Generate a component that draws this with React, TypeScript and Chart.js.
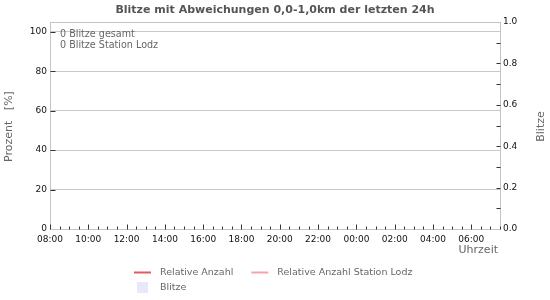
import React, { useEffect, useRef } from "react";
import { Chart, registerables } from "chart.js";

Chart.register(...registerables);

// ---- data ----
const chartTitle = "Blitze mit Abweichungen 0,0-1,0km der letzten 24h";
const startHour = 8;
const hoursSpan = 23.5;
const hourTickStep = 0.5;
const hourLabelStep = 2;
const percentTicks = [0, 20, 40, 60, 80, 100];
const percentMax = 105;
const blitzeMax = 1;
const blitzeTickStep = 0.1;
const blitzeLabelStep = 0.2;
const seriesLabels = ["Relative Anzahl", "Relative Anzahl Station Lodz", "Blitze"];
const seriesColors = ["#e35a5a", "#f7a3a3", "#e8e8fc"];
const relativeAnzahl: { x: number; y: number }[] = [];
const relativeAnzahlLodz: { x: number; y: number }[] = [];
const blitzeCounts: { x: number; y: number }[] = [];
const infoLines = ["0 Blitze gesamt", "0 Blitze Station Lodz"];
const yTitle = "Prozent   [%]";
const y1Title = "Blitze";
const xTitle = "Uhrzeit";

const FONT = "'DejaVu Sans', sans-serif";

const fmtHour = (v: number) => {
  const h = (startHour + Math.round(v)) % 24;
  return (h < 10 ? "0" : "") + h + ":00";
};

const decor = {
  id: "decor",
  beforeDraw(chart: any) {
    const ctx = chart.ctx;
    ctx.save();
    ctx.fillStyle = "#ffffff";
    ctx.fillRect(0, 0, chart.width, chart.height);
    ctx.restore();
  },
  afterDraw(chart: any) {
    const { ctx, chartArea: a, scales } = chart;
    const L = Math.round(a.left) + 0.5;
    const R = Math.round(a.right) + 0.5;
    const T = Math.round(a.top) + 0.5;
    const B = Math.round(a.bottom) + 0.5;
    ctx.save();
    // frame
    ctx.strokeStyle = "#c4c4c4";
    ctx.lineWidth = 1;
    ctx.beginPath();
    ctx.moveTo(L, T);
    ctx.lineTo(R, T);
    ctx.lineTo(R, B);
    ctx.lineTo(L, B);
    ctx.closePath();
    ctx.stroke();

    // tick marks inside
    ctx.strokeStyle = "#333333";
    ctx.beginPath();
    scales.x.ticks.forEach((t: any) => {
      const px = Math.round(scales.x.getPixelForValue(t.value)) + 0.5;
      const len = Math.abs(t.value % hourLabelStep) < 1e-6 ? 5 : 3;
      ctx.moveTo(px, B);
      ctx.lineTo(px, B - len);
    });
    scales.y.ticks.forEach((t: any) => {
      if (t.value === 0) return;
      const py = Math.round(scales.y.getPixelForValue(t.value)) + 0.5;
      ctx.moveTo(L, py);
      ctx.lineTo(L + 5, py);
    });
    scales.y1.ticks.forEach((t: any) => {
      if (t.value === 0 || t.value >= blitzeMax - 1e-6) return;
      const py = Math.round(scales.y1.getPixelForValue(t.value)) + 0.5;
      ctx.moveTo(R - 4, py);
      ctx.lineTo(R, py);
    });
    ctx.stroke();

    // title
    ctx.fillStyle = "#555555";
    ctx.font = "bold 11px " + FONT;
    ctx.textAlign = "center";
    ctx.textBaseline = "middle";
    ctx.fillText(chartTitle, 275, 10);

    // info lines
    ctx.fillStyle = "#666666";
    ctx.font = "9.6px " + FONT;
    ctx.textAlign = "left";
    infoLines.forEach((s, i) => ctx.fillText(s, a.left + 10, a.top + 12.5 + i * 11));

    // axis titles
    ctx.font = "11px " + FONT;
    ctx.textAlign = "right";
    ctx.fillText(xTitle, a.right - 2, a.bottom + 21);
    const cy = (a.top + a.bottom) / 2 + 1;
    ctx.textAlign = "center";
    ctx.save();
    ctx.translate(9, cy);
    ctx.rotate(-Math.PI / 2);
    ctx.fillText(yTitle, 0, 0);
    ctx.restore();
    ctx.save();
    ctx.translate(541, cy);
    ctx.rotate(-Math.PI / 2);
    ctx.fillText(y1Title, 0, 0);
    ctx.restore();

    // legend
    ctx.font = "9.5px " + FONT;
    ctx.textAlign = "left";
    const ds = chart.data.datasets;
    const sw = 17, gap = 9, spacing = 18;
    const w0 = sw + gap + ctx.measureText(ds[0].label).width;
    const w1 = sw + gap + ctx.measureText(ds[1].label).width;
    const rowW = w0 + spacing + w1;
    const x0 = Math.round(273 - rowW / 2);
    const row1 = 272, row2 = 287;
    const items = [
      { x: x0, y: row1, d: ds[0] },
      { x: x0 + w0 + spacing, y: row1, d: ds[1] },
      { x: x0, y: row2, d: ds[2] },
    ];
    items.forEach((it) => {
      if (it.d.type === "bar") {
        ctx.fillStyle = it.d.backgroundColor;
        ctx.fillRect(it.x + 3, it.y - 5, 11, 11);
      } else {
        ctx.strokeStyle = it.d.borderColor;
        ctx.lineWidth = 2;
        ctx.beginPath();
        ctx.moveTo(it.x, it.y + 0.5);
        ctx.lineTo(it.x + sw, it.y + 0.5);
        ctx.stroke();
      }
      ctx.fillStyle = "#666666";
      ctx.fillText(it.d.label, it.x + sw + gap, it.y + 1);
    });
    ctx.restore();
  },
};

export default function App() {
  const ref = useRef<HTMLCanvasElement | null>(null);
  useEffect(() => {
    document.body.style.margin = "0";
    if (!ref.current) return;
    const chart = new Chart(ref.current, {
      type: "line",
      data: {
        datasets: [
          {
            type: "line",
            label: seriesLabels[0],
            data: relativeAnzahl,
            borderColor: seriesColors[0],
            backgroundColor: seriesColors[0],
            borderWidth: 2,
            pointRadius: 0,
            yAxisID: "y",
          },
          {
            type: "line",
            label: seriesLabels[1],
            data: relativeAnzahlLodz,
            borderColor: seriesColors[1],
            backgroundColor: seriesColors[1],
            borderWidth: 2,
            pointRadius: 0,
            yAxisID: "y",
          },
          {
            type: "bar",
            label: seriesLabels[2],
            data: blitzeCounts,
            backgroundColor: seriesColors[2],
            yAxisID: "y1",
          },
        ] as any,
      },
      options: {
        animation: false,
        responsive: false,
        devicePixelRatio: 1,
        layout: { padding: { top: 22, left: 0, right: 0, bottom: 0 } },
        plugins: {
          legend: { display: false },
          title: { display: false },
          tooltip: { enabled: false },
        },
        scales: {
          x: {
            type: "linear",
            offset: false,
            min: 0,
            max: hoursSpan,
            grid: { display: false, drawTicks: false, offset: false },
            border: { display: true, color: "#c4c4c4" },
            afterBuildTicks: (s: any) => {
              const arr = [];
              for (let v = 0; v <= hoursSpan + 1e-9; v += hourTickStep) arr.push({ value: v });
              s.ticks = arr;
            },
            ticks: {
              autoSkip: false,
              maxRotation: 0,
              padding: 5,
              color: "#111111",
              font: { family: FONT, size: 9 },
              callback: (v: any) => (Math.abs(Number(v) % hourLabelStep) < 1e-6 ? fmtHour(Number(v)) : ""),
            },
            afterFit: (s: any) => {
              s.height = 71;
            },
          },
          y: {
            type: "linear",
            position: "left",
            min: 0,
            max: percentMax,
            afterBuildTicks: (s: any) => {
              s.ticks = percentTicks.map((v) => ({ value: v }));
            },
            grid: { color: "#c8c8c8", drawTicks: false },
            border: { display: true, color: "#c4c4c4" },
            ticks: {
              padding: 3,
              color: "#111111",
              font: { family: FONT, size: 9 },
            },
            afterFit: (s: any) => {
              s.width = 50;
            },
          },
          y1: {
            type: "linear",
            position: "right",
            min: 0,
            max: blitzeMax,
            afterBuildTicks: (s: any) => {
              const arr = [];
              for (let i = 0; i <= Math.round(blitzeMax / blitzeTickStep); i++) arr.push({ value: +(i * blitzeTickStep).toFixed(2) });
              s.ticks = arr;
            },
            grid: { display: false, drawTicks: false },
            border: { display: true, color: "#c4c4c4" },
            ticks: {
              padding: 3,
              color: "#111111",
              font: { family: FONT, size: 9 },
              callback: (v: any) => {
                const n = Number(v);
                const k = n / blitzeLabelStep;
                return Math.abs(k - Math.round(k)) < 1e-6 ? n.toFixed(1) : "";
              },
            },
            afterFit: (s: any) => {
              s.width = 50;
            },
          },
        },
      } as any,
      plugins: [decor],
    });
    return () => chart.destroy();
  }, []);
  return <canvas ref={ref} width={550} height={300} style={{ display: "block" }} />;
}
